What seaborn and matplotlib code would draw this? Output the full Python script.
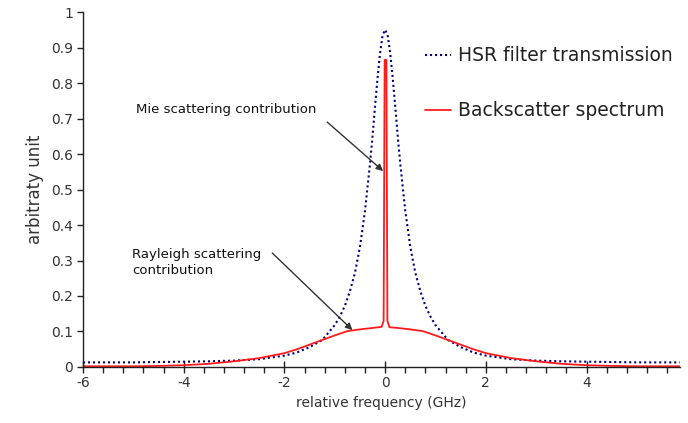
# --Libraries--
import numpy as np
import pandas as pd
import matplotlib
matplotlib.use("Agg")
import matplotlib.pyplot as plt
from matplotlib.ticker import MultipleLocator
import seaborn as sns

# --Data--

# -HSR filter transmission (x in GHz, y in arbitrary unit)
hsr_freq = [-6.0, -5.0, -4.5, -4.0, -3.5, -3.0, -2.5, -2.0, -1.75, -1.5, -1.25,
            -1.0, -0.9, -0.8, -0.7, -0.6, -0.5, -0.4, -0.3, -0.25, -0.2, -0.15,
            -0.1, -0.05, 0.0, 0.05, 0.1, 0.15, 0.2, 0.25, 0.3, 0.4, 0.5, 0.6,
            0.7, 0.8, 0.9, 1.0, 1.25, 1.5, 1.75, 2.0, 2.5, 3.0, 3.5, 4.0, 4.5,
            5.0, 5.85]
hsr_value = [0.013, 0.013, 0.014, 0.015, 0.016, 0.018, 0.022, 0.032, 0.041,
             0.056, 0.076, 0.118, 0.142, 0.172, 0.213, 0.265, 0.338, 0.44,
             0.573, 0.65, 0.735, 0.815, 0.885, 0.935, 0.95, 0.935, 0.885,
             0.815, 0.735, 0.65, 0.573, 0.44, 0.338, 0.265, 0.213, 0.172,
             0.142, 0.118, 0.076, 0.056, 0.041, 0.032, 0.022, 0.018, 0.016,
             0.015, 0.014, 0.013, 0.013]

# -Backscatter spectrum: broad Rayleigh part plus narrow Mie spike
back_freq = [-6.0, -5.0, -4.5, -4.0, -3.5, -3.0, -2.5, -2.0, -1.75, -1.5,
             -1.25, -1.0, -0.75, -0.5, -0.25, -0.07, -0.03, -0.01, 0.025,
             0.045, 0.085, 0.25, 0.5, 0.75, 1.0, 1.25, 1.5, 1.75, 2.0, 2.5,
             3.0, 3.5, 4.0, 4.5, 5.0, 5.85]
back_value = [0.002, 0.002, 0.003, 0.005, 0.009, 0.016, 0.025, 0.039, 0.05,
              0.063, 0.076, 0.089, 0.101, 0.106, 0.11, 0.113, 0.13, 0.865,
              0.865, 0.13, 0.112, 0.11, 0.106, 0.101, 0.089, 0.076, 0.063,
              0.05, 0.039, 0.025, 0.016, 0.009, 0.005, 0.003, 0.002, 0.002]

x_ticks = [-6, -4, -2, 0, 2, 4]
y_ticks = [0, 0.1, 0.2, 0.3, 0.4, 0.5, 0.6, 0.7, 0.8, 0.9, 1]
y_tick_labels = ["0", "0.1", "0.2", "0.3", "0.4", "0.5", "0.6", "0.7", "0.8",
                 "0.9", "1"]

hsr_df = pd.DataFrame({"freq": hsr_freq, "value": hsr_value})
back_df = pd.DataFrame({"freq": back_freq, "value": back_value})

# --Plot--
sns.set_style("white")
plt.rcParams["font.family"] = ["DejaVu Sans"]

fig, ax = plt.subplots(figsize=(6.88, 4.23), dpi=100)
fig.subplots_adjust(left=0.1206, right=0.988, bottom=0.1324, top=0.9716)

sns.lineplot(data=hsr_df, x="freq", y="value", ax=ax, color="#000080",
             linewidth=1.5, linestyle=(0, (1, 1.4)),
             label="HSR filter transmission", sort=False)
sns.lineplot(data=back_df, x="freq", y="value", ax=ax, color="#ff1a1a",
             linewidth=1.3, label="Backscatter spectrum", sort=False)

ax.set_xlim(-6, 5.85)
ax.set_ylim(0, 1)
ax.set_xticks(x_ticks)
ax.set_xticklabels([str(t) for t in x_ticks])
ax.xaxis.set_minor_locator(MultipleLocator(0.4))
ax.set_yticks(y_ticks)
ax.set_yticklabels(y_tick_labels)

ax.tick_params(axis="x", which="major", direction="inout", length=9,
               width=1, bottom=True, colors="#222222", labelcolor="#333333",
               labelsize=10, pad=2)
ax.tick_params(axis="x", which="minor", direction="out", length=4, width=1,
               bottom=True, colors="#222222")
ax.tick_params(axis="y", which="major", direction="out", length=4, width=1,
               left=True, colors="#222222", labelcolor="#333333",
               labelsize=10, pad=3)

for side in ["top", "right"]:
    ax.spines[side].set_visible(False)
for side in ["left", "bottom"]:
    ax.spines[side].set_color("#222222")
    ax.spines[side].set_linewidth(1)

ax.set_xlabel("relative frequency (GHz)", fontsize=10, color="#333333",
              labelpad=4)
ax.set_ylabel("arbitraty unit", fontsize=12, color="#333333", labelpad=5)

# -Annotations: text and arrows
ax.text(-4.95, 0.724, "Mie scattering contribution", fontsize=9.5,
        color="#111111", va="center", ha="left")
ax.annotate("", xy=(-0.04, 0.552), xytext=(-1.15, 0.69),
            arrowprops=dict(arrowstyle="-|>", color="#333333", lw=1,
                            shrinkA=0, shrinkB=0, mutation_scale=10))

ax.text(-5.03, 0.294, "Rayleigh scattering\ncontribution", fontsize=9.5,
        color="#111111", va="center", ha="left", linespacing=1.3)
ax.annotate("", xy=(-0.65, 0.104), xytext=(-2.24, 0.321),
            arrowprops=dict(arrowstyle="-|>", color="#333333", lw=1,
                            shrinkA=0, shrinkB=0, mutation_scale=10))

leg = ax.legend(loc="upper left", bbox_to_anchor=(0.573, 0.904),
                frameon=False, fontsize=13.5, handlelength=1.4,
                handletextpad=0.35, labelspacing=1.92, borderpad=0,
                borderaxespad=0)
for text in leg.get_texts():
    text.set_color("#222222")

fig.savefig("out.png", dpi=100)
